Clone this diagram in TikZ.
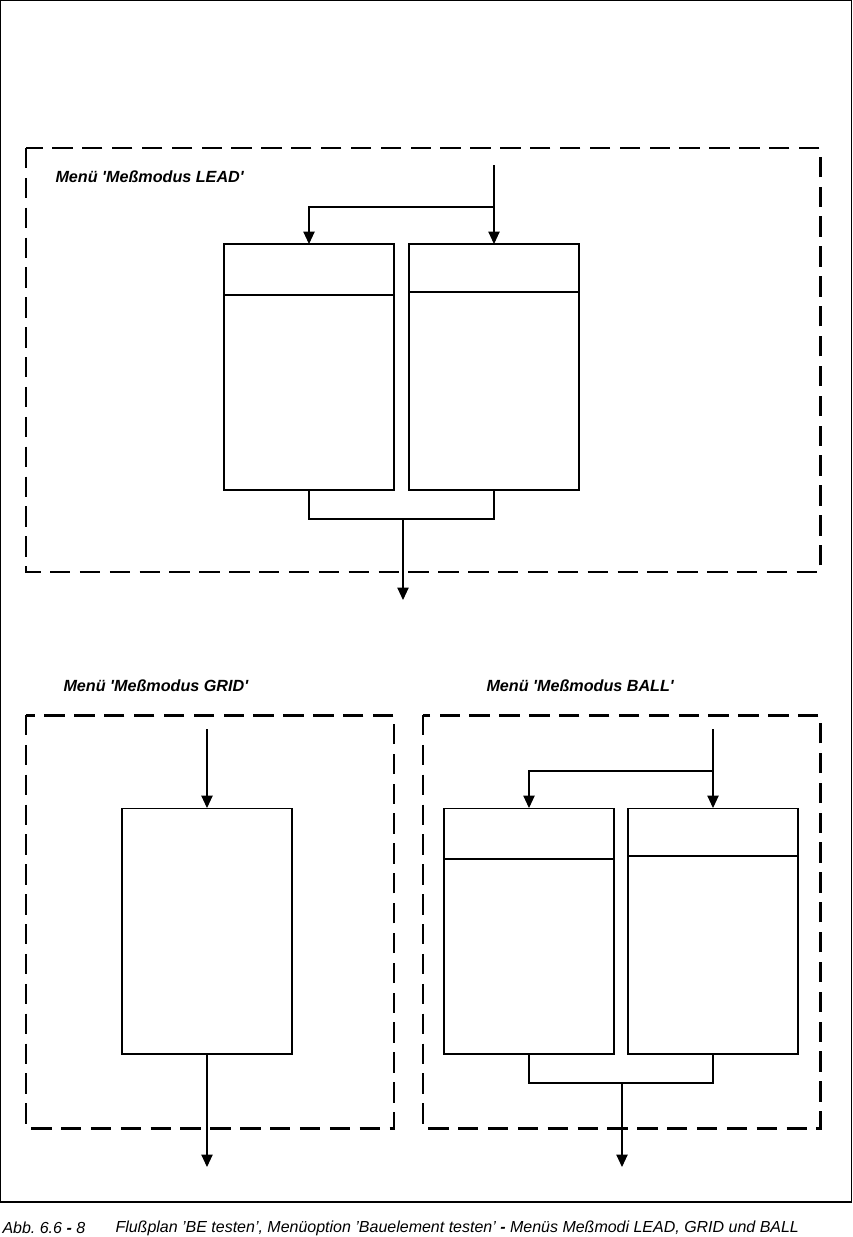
\documentclass[tikz,border=0pt]{standalone}
\usepackage{fontspec}
\setmainfont{Liberation Sans}
\usetikzlibrary{arrows.meta}

\begin{document}
\begin{tikzpicture}[x=0.02cm,y=-0.02cm,>={Triangle[length=7pt,width=6.4pt]},line width=0.6pt,
  menubox/.style={draw,inner sep=0pt,outer sep=0pt,minimum width=3.4cm,minimum height=4.92cm},
  frame/.style={line width=1.7pt,dash pattern=on 11.6pt off 5.4pt},
  menulabel/.style={anchor=west,inner sep=0pt,font=\bfseries\itshape\fontsize{9.2}{11}\selectfont},
  caption/.style={anchor=west,inner sep=0pt,font=\itshape\fontsize{9.1}{11}\selectfont}]
\useasboundingbox (0,0) rectangle (852,1237);
\draw (0.5,0.5) rectangle (851.5,1202);
% Menue LEAD
\draw[frame] (26,148) rectangle (820,572);
\node[menulabel] (leadlabel) at (55,177) {Men\"u \textquotesingle Me\ss modus LEAD\textquotesingle};
\node[menubox] (leadA) at (309,367) {};
\node[menubox] (leadB) at (494,367) {};
\coordinate (leadin) at (494,165);
\coordinate (leadsplit) at (494,207);
\coordinate (leadjoin) at (403,519);
\coordinate (leadout) at (403,600);
\draw[->] (leadin) -- (leadB.north);
\draw[->] (leadsplit) -| (leadA.north);
\draw (leadA.south) |- (leadjoin) -| (leadB.south);
\draw[->] (leadjoin) -- (leadout);
% Menue GRID
\draw[frame] (26,715) rectangle (394,1128);
\node[menulabel] (gridlabel) at (63,686) {Men\"u \textquotesingle Me\ss modus GRID\textquotesingle};
\node[menubox] (gridA) at (207,931) {};
\coordinate (gridin) at (207,729);
\coordinate (gridout) at (207,1167);
\draw[->] (gridin) -- (gridA.north);
\draw[->] (gridA.south) -- (gridout);
% Menue BALL
\draw[frame] (423,715) rectangle (820,1128);
\node[menulabel] (balllabel) at (486,686) {Men\"u \textquotesingle Me\ss modus BALL\textquotesingle};
\node[menubox] (ballA) at (529,931) {};
\node[menubox] (ballB) at (713,931) {};
\coordinate (ballin) at (713,729);
\coordinate (ballsplit) at (713,771);
\coordinate (balljoin) at (622,1083);
\coordinate (ballout) at (622,1167);
\draw[->] (ballin) -- (ballB.north);
\draw[->] (ballsplit) -| (ballA.north);
\draw (ballA.south) |- (balljoin) -| (ballB.south);
\draw[->] (balljoin) -- (ballout);
% Trennlinien
\draw (leadA.west |- 0,295) -- (leadA.east |- 0,295);
\draw (leadB.west |- 0,292) -- (leadB.east |- 0,292);
\draw (ballA.west |- 0,859) -- (ballA.east |- 0,859);
\draw (ballB.west |- 0,856) -- (ballB.east |- 0,856);
% Bildunterschrift
\node[caption] (capnum) at (2,1228) {Abb.\ 6.6 \textbf{-} 8};
\node[caption] (captext) at (115,1228) {Flu\ss plan ’BE testen’, Men\"uoption ’Bauelement testen’ \textbf{-} Men\"us Me\ss modi LEAD, GRID und BALL};
\end{tikzpicture}
\end{document}
